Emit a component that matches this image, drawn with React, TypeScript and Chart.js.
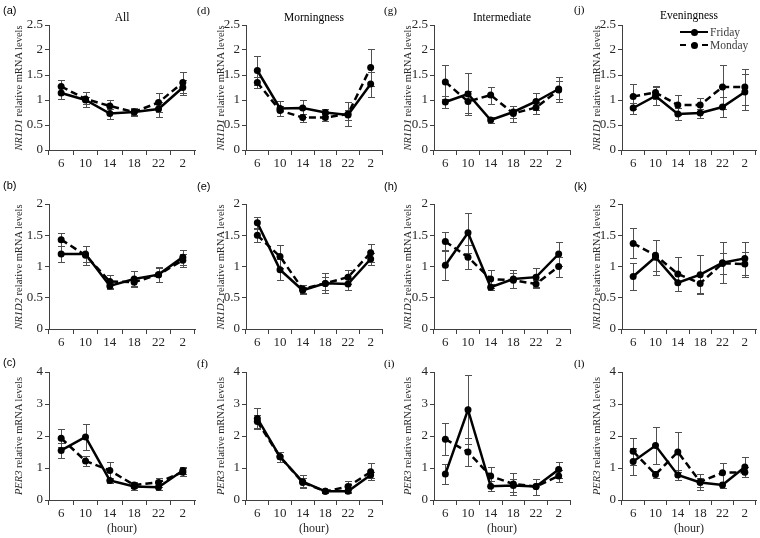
import React, { useEffect, useRef } from "react";
import { Chart, registerables } from "chart.js";
Chart.register(...registerables);

const hours = ["6", "10", "14", "18", "22", "2"];
const seriesNames = ["Friday", "Monday"];
const groups = ["All", "Morningness", "Intermediate", "Eveningness"];
const genes = ["NR1D1", "NR1D2", "PER3"];
const panelLetters = [["(a)", "(d)", "(g)", "(j)"], ["(b)", "(e)", "(h)", "(k)"], ["(c)", "(f)", "(i)", "(l)"]];
const yMaxByGene = [2.5, 2, 4];
const yStepByGene = [0.5, 0.5, 1];

// NR1D1
const nr1d1AllFri = [1.14, 1.0, 0.73, 0.76, 0.82, 1.25];
const nr1d1AllFriErr = [0.12, 0.07, 0.1, 0.05, 0.15, 0.15];
const nr1d1AllMon = [1.27, 1.02, 0.88, 0.76, 0.95, 1.35];
const nr1d1AllMonErr = [0.14, 0.15, 0.12, 0.07, 0.19, 0.21];
const nr1d1MorFri = [1.59, 0.83, 0.84, 0.75, 0.7, 1.32];
const nr1d1MorFriErr = [0.29, 0.15, 0.17, 0.07, 0.1, 0.25];
const nr1d1MorMon = [1.35, 0.79, 0.65, 0.65, 0.72, 1.65];
const nr1d1MorMonErr = [0.1, 0.1, 0.08, 0.07, 0.24, 0.37];
const nr1d1IntFri = [0.96, 1.12, 0.6, 0.76, 0.97, 1.22];
const nr1d1IntFriErr = [0.12, 0.42, 0.06, 0.12, 0.17, 0.25];
const nr1d1IntMon = [1.36, 0.97, 1.1, 0.73, 0.85, 1.2];
const nr1d1IntMonErr = [0.33, 0.22, 0.17, 0.16, 0.12, 0.18];
const nr1d1EveFri = [0.84, 1.08, 0.72, 0.74, 0.86, 1.16];
const nr1d1EveFriErr = [0.11, 0.19, 0.12, 0.09, 0.2, 0.36];
const nr1d1EveMon = [1.07, 1.15, 0.9, 0.9, 1.26, 1.26];
const nr1d1EveMonErr = [0.25, 0.13, 0.2, 0.15, 0.44, 0.36];

// NR1D2
const nr1d2AllFri = [1.2, 1.2, 0.69, 0.8, 0.87, 1.15];
const nr1d2AllFriErr = [0.13, 0.13, 0.05, 0.13, 0.11, 0.12];
const nr1d2AllMon = [1.43, 1.18, 0.76, 0.75, 0.87, 1.1];
const nr1d2AllMonErr = [0.1, 0.15, 0.1, 0.06, 0.12, 0.1];
const nr1d2MorFri = [1.7, 0.95, 0.62, 0.73, 0.72, 1.12];
const nr1d2MorFriErr = [0.09, 0.17, 0.06, 0.1, 0.1, 0.1];
const nr1d2MorMon = [1.5, 1.16, 0.64, 0.73, 0.83, 1.22];
const nr1d2MorMonErr = [0.1, 0.19, 0.06, 0.16, 0.11, 0.14];
const nr1d2IntFri = [1.02, 1.54, 0.67, 0.8, 0.83, 1.2];
const nr1d2IntFriErr = [0.24, 0.32, 0.05, 0.15, 0.15, 0.19];
const nr1d2IntMon = [1.4, 1.15, 0.8, 0.78, 0.72, 1.0];
const nr1d2IntMonErr = [0.15, 0.19, 0.15, 0.12, 0.06, 0.16];
const nr1d2EveFri = [0.84, 1.15, 0.74, 0.87, 1.06, 1.13];
const nr1d2EveFriErr = [0.21, 0.28, 0.13, 0.31, 0.33, 0.26];
const nr1d2EveMon = [1.37, 1.18, 0.88, 0.73, 1.05, 1.04];
const nr1d2EveMonErr = [0.24, 0.25, 0.27, 0.16, 0.17, 0.2];

// PER3
const per3AllFri = [1.55, 1.97, 0.61, 0.42, 0.4, 0.92];
const per3AllFriErr = [0.24, 0.42, 0.08, 0.1, 0.1, 0.12];
const per3AllMon = [1.93, 1.22, 0.92, 0.47, 0.55, 0.87];
const per3AllMonErr = [0.28, 0.17, 0.26, 0.1, 0.15, 0.12];
const per3MorFri = [2.55, 1.35, 0.57, 0.27, 0.27, 0.78];
const per3MorFriErr = [0.33, 0.15, 0.2, 0.04, 0.05, 0.1];
const per3MorMon = [2.45, 1.35, 0.55, 0.27, 0.42, 0.88];
const per3MorMonErr = [0.2, 0.15, 0.15, 0.04, 0.16, 0.27];
const per3IntFri = [0.81, 2.82, 0.43, 0.45, 0.42, 0.95];
const per3IntFriErr = [0.3, 1.08, 0.15, 0.2, 0.25, 0.25];
const per3IntMon = [1.9, 1.5, 0.75, 0.5, 0.42, 0.75];
const per3IntMonErr = [0.5, 0.45, 0.27, 0.33, 0.25, 0.2];
const per3EveFri = [1.2, 1.7, 0.78, 0.55, 0.47, 1.03];
const per3EveFriErr = [0.42, 0.59, 0.15, 0.15, 0.1, 0.32];
const per3EveMon = [1.52, 0.8, 1.5, 0.57, 0.85, 0.87];
const per3EveMonErr = [0.43, 0.12, 0.63, 0.25, 0.3, 0.15];

const panelData = [
  [
    [nr1d1AllFri, nr1d1AllFriErr, nr1d1AllMon, nr1d1AllMonErr],
    [nr1d1MorFri, nr1d1MorFriErr, nr1d1MorMon, nr1d1MorMonErr],
    [nr1d1IntFri, nr1d1IntFriErr, nr1d1IntMon, nr1d1IntMonErr],
    [nr1d1EveFri, nr1d1EveFriErr, nr1d1EveMon, nr1d1EveMonErr],
  ],
  [
    [nr1d2AllFri, nr1d2AllFriErr, nr1d2AllMon, nr1d2AllMonErr],
    [nr1d2MorFri, nr1d2MorFriErr, nr1d2MorMon, nr1d2MorMonErr],
    [nr1d2IntFri, nr1d2IntFriErr, nr1d2IntMon, nr1d2IntMonErr],
    [nr1d2EveFri, nr1d2EveFriErr, nr1d2EveMon, nr1d2EveMonErr],
  ],
  [
    [per3AllFri, per3AllFriErr, per3AllMon, per3AllMonErr],
    [per3MorFri, per3MorFriErr, per3MorMon, per3MorMonErr],
    [per3IntFri, per3IntFriErr, per3IntMon, per3IntMonErr],
    [per3EveFri, per3EveFriErr, per3EveMon, per3EveMonErr],
  ],
];

// layout
const COL_L = [49, 246, 434, 622];
const COL_R = [195, 382, 570, 756];
const ROW_T = [25, 204, 372];
const ROW_B = [150, 329, 500];
const YW = 30;
const PT = 10;
const PR = 4;
const XH = 24;
const YTITLE_X = [18, 220, 407, 596];
const SERIF = "'Liberation Serif', 'Times New Roman', serif";
const SANS = "'Liberation Sans', Arial, sans-serif";
const AXIS = "#404040";
const TEXT = "#262626";

const errorBars = {
  id: "errorBars",
  beforeDatasetsDraw(chart: any) {
    const { ctx } = chart;
    const x = chart.scales.x;
    const y = chart.scales.y;
    ctx.save();
    ctx.strokeStyle = "#505050";
    ctx.lineWidth = 1;
    chart.data.datasets.forEach((ds: any) => {
      const errs: number[] = ds.errors;
      if (!errs) return;
      ds.data.forEach((v: number, j: number) => {
        const px = Math.round(x.getPixelForValue(j)) + 0.5;
        const t = Math.round(y.getPixelForValue(v + errs[j])) + 0.5;
        const b = Math.round(y.getPixelForValue(Math.max(0, v - errs[j]))) + 0.5;
        ctx.beginPath();
        ctx.moveTo(px, t);
        ctx.lineTo(px, b);
        ctx.moveTo(px - 3.5, t);
        ctx.lineTo(px + 3.5, t);
        ctx.moveTo(px - 3.5, b);
        ctx.lineTo(px + 3.5, b);
        ctx.stroke();
      });
    });
    ctx.restore();
  },
};

function Panel({ row, col }: { row: number; col: number }) {
  const ref = useRef<HTMLCanvasElement>(null);
  const [fri, friErr, mon, monErr] = panelData[row][col];
  const left = COL_L[col] - YW;
  const top = ROW_T[row] - PT;
  const width = COL_R[col] - COL_L[col] + YW + PR;
  const height = ROW_B[row] - ROW_T[row] + PT + XH;
  useEffect(() => {
    if (!ref.current) return;
    const chart = new Chart(ref.current, {
      type: "line",
      data: {
        labels: hours,
        datasets: [
          {
            label: seriesNames[0],
            data: fri,
            errors: friErr,
            borderColor: "#000",
            backgroundColor: "#000",
            borderWidth: 2.5,
            pointRadius: 3.5,
            pointBorderWidth: 0,
            pointBackgroundColor: "#000",
            tension: 0,
          } as any,
          {
            label: seriesNames[1],
            data: mon,
            errors: monErr,
            borderColor: "#000",
            backgroundColor: "#000",
            borderWidth: 2.5,
            borderDash: [7, 4],
            pointRadius: 3.5,
            pointBorderWidth: 0,
            pointBackgroundColor: "#000",
            tension: 0,
          } as any,
        ],
      },
      options: {
        animation: false,
        responsive: false,
        devicePixelRatio: 1,
        layout: { padding: { top: PT, right: PR, left: 0, bottom: 0 } },
        plugins: { legend: { display: false }, tooltip: { enabled: false } },
        scales: {
          x: {
            type: "category",
            offset: true,
            afterFit: (s: any) => {
              s.height = XH;
            },
            grid: {
              offset: true,
              drawOnChartArea: false,
              drawTicks: true,
              tickLength: 5,
              color: AXIS,
            },
            border: { display: true, color: AXIS, width: 1 },
            ticks: {
              color: TEXT,
              font: { family: SERIF, size: 13 },
              padding: 1,
              maxRotation: 0,
              autoSkip: false,
            },
          },
          y: {
            min: 0,
            max: yMaxByGene[row],
            afterFit: (s: any) => {
              s.width = YW;
            },
            grid: {
              drawOnChartArea: false,
              drawTicks: true,
              tickLength: 4,
              color: AXIS,
            },
            border: { display: true, color: AXIS, width: 1 },
            ticks: {
              stepSize: yStepByGene[row],
              color: TEXT,
              font: { family: SERIF, size: 13 },
              padding: 2,
              callback: (v: any) => String(Math.round(Number(v) * 10) / 10),
            },
          },
        },
      },
      plugins: [errorBars],
    });
    return () => chart.destroy();
  }, []);
  return (
    <canvas
      ref={ref}
      width={width}
      height={height}
      style={{ position: "absolute", left, top, width, height }}
    />
  );
}

const labelPos = [
  [[3, 10], [197, 10], [384, 10], [574, 9]],
  [[3, 185], [197, 186], [384, 186], [574, 186]],
  [[3, 362], [197, 363], [384, 363], [574, 363]],
];

export default function App() {
  const panels: any[] = [];
  const overlays: any[] = [];
  for (let r = 0; r < 3; r++) {
    for (let c = 0; c < 4; c++) {
      panels.push(<Panel key={`p${r}${c}`} row={r} col={c} />);
      const cy = (ROW_T[r] + ROW_B[r]) / 2;
      overlays.push(
        <div
          key={`yt${r}${c}`}
          style={{
            position: "absolute",
            left: YTITLE_X[c],
            top: cy,
            transform: "translate(-50%, -50%) rotate(-90deg)",
            whiteSpace: "nowrap",
            fontFamily: SERIF,
            fontSize: 10.5,
            color: TEXT,
          }}
        >
          <i>{genes[r]}</i> relative mRNA levels
        </div>
      );
      const [lx, ly] = labelPos[r][c];
      overlays.push(
        <div
          key={`lb${r}${c}`}
          style={{
            position: "absolute",
            left: lx,
            top: ly,
            transform: "translateY(-50%)",
            fontFamily: c === 0 || r === 1 ? SANS : SERIF,
            fontSize: 11,
            color: "#000",
            whiteSpace: "nowrap",
          }}
        >
          {panelLetters[r][c]}
        </div>
      );
    }
  }
  for (let c = 0; c < 4; c++) {
    overlays.push(
      <div
        key={`gt${c}`}
        style={{
          position: "absolute",
          left: (COL_L[c] + COL_R[c]) / 2,
          top: c === 3 ? 15 : 17,
          transform: "translate(-50%, -50%)",
          fontFamily: SERIF,
          fontSize: 11.5,
          color: "#000",
          whiteSpace: "nowrap",
        }}
      >
        {groups[c]}
      </div>
    );
    overlays.push(
      <div
        key={`hr${c}`}
        style={{
          position: "absolute",
          left: (COL_L[c] + COL_R[c]) / 2,
          top: 528,
          transform: "translate(-50%, -50%)",
          fontFamily: SERIF,
          fontSize: 12,
          color: TEXT,
          whiteSpace: "nowrap",
        }}
      >
        (hour)
      </div>
    );
  }
  const legendItem = (name: string, dashed: boolean, y: number) => (
    <div
      key={`lg${name}`}
      style={{ position: "absolute", left: 680, top: y, transform: "translateY(-50%)", display: "flex", alignItems: "center" }}
    >
      <div style={{ position: "relative", width: 28, height: 8 }}>
        <div
          style={{
            position: "absolute",
            left: 0,
            right: 0,
            top: 3,
            borderTop: dashed ? "2.5px dashed #000" : "2.5px solid #000",
          }}
        />
        <div
          style={{
            position: "absolute",
            left: 10.5,
            top: 0.5,
            width: 7,
            height: 7,
            borderRadius: "50%",
            background: "#000",
          }}
        />
      </div>
      <span style={{ marginLeft: 2, fontFamily: SERIF, fontSize: 11.5, color: "#404040" }}>{name}</span>
    </div>
  );
  overlays.push(legendItem(seriesNames[0], false, 32));
  overlays.push(legendItem(seriesNames[1], true, 45));
  return (
    <div style={{ position: "fixed", left: 0, top: 0, width: 760, height: 538, background: "#fff", overflow: "hidden" }}>
      {panels}
      <div style={{ position: "absolute", left: 0, top: 0, width: 760, height: 538, pointerEvents: "none" }}>{overlays}</div>
    </div>
  );
}
